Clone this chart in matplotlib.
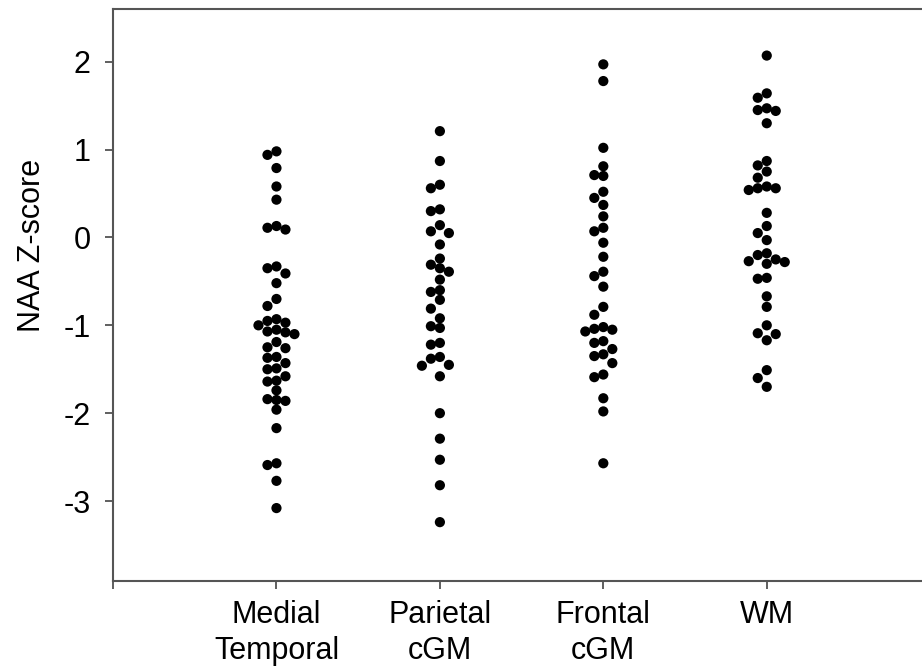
"""NAA Z-score dot plot per brain region (recreated)."""

import matplotlib

matplotlib.use("Agg")
import matplotlib.pyplot as plt
import numpy as np

plt.rcParams["font.family"] = ["Liberation Sans", "DejaVu Sans"]

# values, one list per region
regions = ["Medial\nTemporal", "Parietal\ncGM", "Frontal\ncGM", "WM"]

medial_temporal = [
    0.98, 0.94, 0.79, 0.58, 0.43, 0.13, 0.11, 0.09, -0.33, -0.35, -0.41, -0.52,
    -0.70, -0.78, -0.93, -0.95, -0.97, -1.00, -1.05, -1.07, -1.08, -1.10,
    -1.19, -1.25, -1.26, -1.36, -1.37, -1.43, -1.49, -1.50, -1.58, -1.63, -1.64,
    -1.74, -1.84, -1.85, -1.86, -1.96, -2.17, -2.57, -2.59, -2.77, -3.08,
]
parietal_cgm = [
    1.21, 0.87, 0.60, 0.56, 0.32, 0.30, 0.14, 0.07, 0.05, -0.08, -0.24, -0.31,
    -0.35, -0.39, -0.48, -0.60, -0.62, -0.71, -0.81, -0.92, -1.01, -1.03,
    -1.20, -1.22, -1.36, -1.38, -1.45, -1.46, -1.58, -2.00, -2.29, -2.53,
    -2.82, -3.24,
]
frontal_cgm = [
    1.97, 1.78, 1.02, 0.81, 0.71, 0.70, 0.52, 0.45, 0.37, 0.24, 0.11, 0.07,
    -0.06, -0.22, -0.39, -0.44, -0.56, -0.79, -0.88, -1.02, -1.04, -1.05,
    -1.07, -1.18, -1.20, -1.27, -1.33, -1.35, -1.43, -1.56, -1.59, -1.83,
    -1.98, -2.57,
]
wm = [
    2.07, 1.64, 1.59, 1.47, 1.45, 1.44, 1.30, 0.87, 0.82, 0.75, 0.68, 0.58,
    0.56, 0.56, 0.54, 0.28, 0.13, 0.05, -0.03, -0.18, -0.20, -0.25, -0.27,
    -0.28, -0.30, -0.46, -0.47, -0.67, -0.79, -1.00, -1.09, -1.10, -1.17,
    -1.51, -1.60, -1.70,
]
groups = [medial_temporal, parietal_cgm, frontal_cgm, wm]

y_ticks = [2, 1, 0, -1, -2, -3]


def swarm_offsets(values, y_scale, step, diameter):
    """Greedy beeswarm: put each dot in the nearest free column slot (pixel units)."""

    order = np.argsort(values)[::-1]
    placed = []
    offsets = np.zeros(len(values))
    for idx in order:
        y = values[idx] * y_scale
        for k in (0, -1, 1, -2, 2, -3, 3):
            x = k * step
            if all((x - px) ** 2 + (y - py) ** 2 >= diameter ** 2 for px, py in placed):
                break
        placed.append((x, y))
        offsets[idx] = x
    return offsets


def main() -> None:
    fig = plt.figure(figsize=(9.22, 6.72), dpi=100)
    ax = fig.add_axes([0.1226, 0.1354, 0.8774, 0.8512])

    x_lim = (0.0, 4.95)
    y_lim = (-3.91, 2.60)
    ax.set_xlim(*x_lim)
    ax.set_ylim(*y_lim)

    # pixel sizes of one data unit, used for the swarm layout
    px_per_x = 0.8774 * 922 / (x_lim[1] - x_lim[0])
    px_per_y = 0.8512 * 672 / (y_lim[1] - y_lim[0])

    for pos, values in enumerate(groups, start=1):
        values = np.asarray(values, dtype=float)
        offs = swarm_offsets(values, px_per_y, step=9.0, diameter=9.0) / px_per_x
        ax.scatter(pos + offs, values, s=54, color="black", edgecolors="none", zorder=3)

    ax.set_xticks([0, 1, 2, 3, 4])
    ax.set_xticklabels([""] + regions, fontsize=22, linespacing=1.25)
    ax.set_yticks(y_ticks)
    ax.set_yticklabels([str(t) for t in y_ticks], fontsize=22)
    ax.set_ylabel("NAA Z-score", fontsize=22)
    ax.yaxis.set_label_coords(-0.082, 0.587)

    ax.tick_params(axis="both", direction="out", length=6, width=1.2, colors="#444444",
                   labelcolor="black")
    ax.tick_params(axis="y", pad=10)
    ax.tick_params(axis="x", pad=8)

    for side in ("left", "bottom", "top"):
        ax.spines[side].set_color("#555555")
        ax.spines[side].set_linewidth(1.5)
    ax.spines["right"].set_visible(False)

    fig.savefig("out.png", dpi=100)
    plt.close(fig)


if __name__ == "__main__":
    main()
